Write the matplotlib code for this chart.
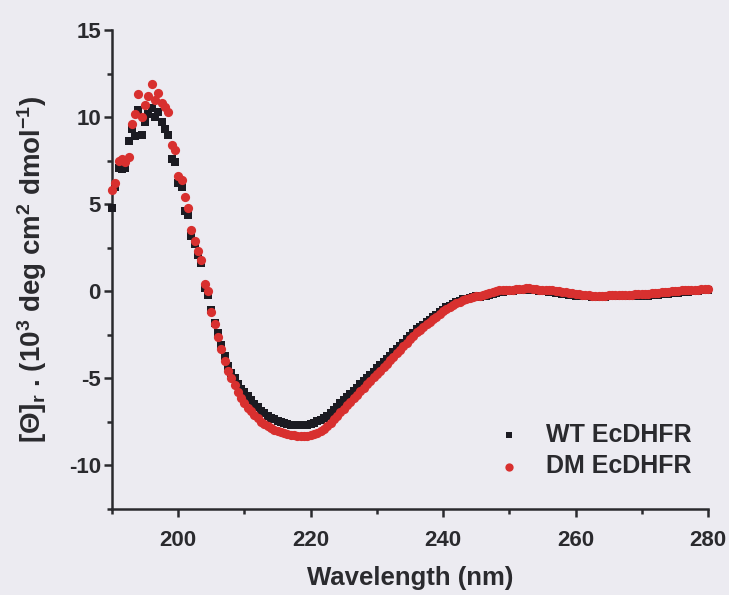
import matplotlib
matplotlib.use("Agg")
import matplotlib.pyplot as plt
from matplotlib.ticker import MultipleLocator

plt.rcParams['font.family'] = ['Liberation Sans', 'DejaVu Sans']
plt.rcParams['font.weight'] = 'bold'
plt.rcParams['axes.unicode_minus'] = False
plt.rcParams['mathtext.fontset'] = 'custom'
plt.rcParams['mathtext.rm'] = 'Liberation Sans:bold'
plt.rcParams['mathtext.it'] = 'Liberation Sans:bold'
plt.rcParams['mathtext.bf'] = 'Liberation Sans:bold'

# Wavelength grid (nm), 0.5 nm steps from 190 to 280
wavelength_start = 190.0
wavelength_step = 0.5

wt_ecdhfr = [
    4.8, 6.0, 7.1, 7.0, 7.1, 8.6, 9.3, 8.9, 10.4, 9.0,          # 190.0-194.5
    9.7, 10.2, 10.5, 10.0, 10.3, 9.7, 9.3, 9.0, 7.6, 7.4,       # 195.0-199.5
    6.2, 6.0, 4.6, 4.4, 3.2, 2.7, 2.1, 1.6, 0.2, -0.2,          # 200.0-204.5
    -1.1, -1.8, -2.4, -3.1, -3.7, -4.3, -4.7, -5.0, -5.3, -5.6,  # 205.0-209.5
    -5.8, -6.0, -6.25, -6.45, -6.65, -6.85, -7.0, -7.15, -7.25, -7.35,  # 210.0-214.5
    -7.45, -7.5, -7.55, -7.6, -7.65, -7.7, -7.7, -7.7, -7.7, -7.65,     # 215.0-219.5
    -7.6, -7.55, -7.45, -7.4, -7.3, -7.15, -6.98, -6.8, -6.62, -6.43,   # 220.0-224.5
    -6.25, -6.07, -5.9, -5.72, -5.53, -5.35, -5.17, -4.98, -4.8, -4.62, # 225.0-229.5
    -4.43, -4.25, -4.06, -3.88, -3.7, -3.5, -3.32, -3.13, -2.95, -2.76, # 230.0-234.5
    -2.57, -2.38, -2.19, -2.05, -1.91, -1.77, -1.63, -1.49, -1.35, -1.21,  # 235.0-239.5
    -1.07, -0.93, -0.83, -0.73, -0.64, -0.55, -0.46, -0.42, -0.37, -0.33,  # 240.0-244.5
    -0.3, -0.33, -0.3, -0.25, -0.2, -0.15, -0.1, -0.05, -0.05, 0.0,       # 245.0-249.5
    0.0, 0.0, 0.05, 0.05, 0.05, 0.1, 0.1, 0.05, 0.05, 0.0,               # 250.0-254.5
    0.0, 0.0, -0.05, -0.05, -0.1, -0.1, -0.15, -0.15, -0.2, -0.2,        # 255.0-259.5
    -0.25, -0.25, -0.3, -0.3, -0.3, -0.35, -0.35, -0.35, -0.35, -0.35,   # 260.0-264.5
    -0.3, -0.3, -0.3, -0.3, -0.3, -0.3, -0.3, -0.3, -0.3, -0.25,         # 265.0-269.5
    -0.25, -0.25, -0.25, -0.2, -0.2, -0.2, -0.15, -0.15, -0.15, -0.1,    # 270.0-274.5
    -0.1, -0.1, -0.05, -0.05, -0.05, 0.0, 0.0, 0.0, 0.05, 0.05,          # 275.0-279.5
    0.05,                                                                # 280.0
]

dm_ecdhfr = [
    5.8, 6.2, 7.5, 7.6, 7.4, 7.7, 9.6, 10.2, 11.3, 10.0,        # 190.0-194.5
    10.7, 11.2, 11.9, 11.0, 11.4, 10.8, 10.6, 10.3, 8.4, 8.1,   # 195.0-199.5
    6.6, 6.4, 5.4, 4.8, 3.5, 2.9, 2.3, 1.8, 0.4, 0.0,           # 200.0-204.5
    -1.2, -1.9, -2.6, -3.3, -4.0, -4.6, -5.0, -5.4, -5.8, -6.1,  # 205.0-209.5
    -6.4, -6.7, -6.9, -7.1, -7.3, -7.5, -7.6, -7.75, -7.85, -7.95,  # 210.0-214.5
    -8.05, -8.1, -8.15, -8.2, -8.25, -8.25, -8.3, -8.3, -8.3, -8.3,  # 215.0-219.5
    -8.25, -8.2, -8.15, -8.05, -7.9, -7.75, -7.55, -7.35, -7.15, -6.95,  # 220.0-224.5
    -6.75, -6.55, -6.35, -6.15, -5.95, -5.75, -5.55, -5.35, -5.15, -4.95,  # 225.0-229.5
    -4.75, -4.55, -4.35, -4.15, -3.95, -3.75, -3.55, -3.35, -3.15, -2.95,  # 230.0-234.5
    -2.75, -2.55, -2.35, -2.2, -2.05, -1.9, -1.75, -1.6, -1.45, -1.3,      # 235.0-239.5
    -1.15, -1.0, -0.9, -0.8, -0.7, -0.6, -0.5, -0.45, -0.4, -0.35,         # 240.0-244.5
    -0.3, -0.25, -0.2, -0.15, -0.1, -0.05, 0.0, 0.05, 0.05, 0.1,           # 245.0-249.5
    0.1, 0.1, 0.15, 0.15, 0.15, 0.2, 0.2, 0.15, 0.15, 0.1,                 # 250.0-254.5
    0.1, 0.1, 0.05, 0.05, 0.0, 0.0, -0.05, -0.05, -0.1, -0.1,              # 255.0-259.5
    -0.15, -0.15, -0.2, -0.2, -0.2, -0.25, -0.25, -0.25, -0.25, -0.25,     # 260.0-264.5
    -0.2, -0.2, -0.2, -0.2, -0.2, -0.2, -0.2, -0.2, -0.15, -0.15,          # 265.0-269.5
    -0.15, -0.15, -0.15, -0.1, -0.1, -0.1, -0.05, -0.05, -0.05, 0.0,       # 270.0-274.5
    0.0, 0.0, 0.05, 0.05, 0.05, 0.1, 0.1, 0.1, 0.15, 0.15,                 # 275.0-279.5
    0.15,                                                                  # 280.0
]

wavelength = [wavelength_start + i * wavelength_step for i in range(len(dm_ecdhfr))]

series_labels = ["WT EcDHFR", "DM EcDHFR"]
x_ticks = [200, 220, 240, 260, 280]
y_ticks = [-10, -5, 0, 5, 10, 15]

bg = '#ecebf1'
axis_col = '#2a2a2e'

fig = plt.figure(figsize=(7.29, 5.95), dpi=100, facecolor=bg)
ax = fig.add_axes([112/729, 1-509/595, (708-112)/729, (509-30)/595])
ax.set_facecolor(bg)

ax.scatter(wavelength, wt_ecdhfr, marker='s', s=28, color='#1b1b22',
           linewidths=0, label=series_labels[0], zorder=3, clip_on=False)
ax.scatter(wavelength, dm_ecdhfr, marker='o', s=44, color='#d8302f',
           linewidths=0, label=series_labels[1], zorder=4, clip_on=False)

ax.set_xlim(190, 280)
ax.set_ylim(-12.5, 15)
ax.set_xticks(x_ticks)
ax.set_yticks(y_ticks)
ax.xaxis.set_minor_locator(MultipleLocator(10))
ax.yaxis.set_minor_locator(MultipleLocator(2.5))

for s in ['top', 'right']:
    ax.spines[s].set_visible(False)
for s in ['left', 'bottom']:
    ax.spines[s].set_color(axis_col)
    ax.spines[s].set_linewidth(1.8)

ax.tick_params(axis='both', which='major', length=6, width=1.8, color=axis_col,
               labelsize=16, labelcolor='#2a2a2e')
ax.tick_params(axis='both', which='minor', length=3.5, width=1.8, color=axis_col)
ax.tick_params(axis='x', which='major', pad=9)
ax.tick_params(axis='y', which='major', pad=2)
for lab in ax.get_xticklabels() + ax.get_yticklabels():
    lab.set_fontweight('bold')

ax.set_xlabel('Wavelength (nm)', fontsize=18.5, fontweight='bold', color='#2a2a2e', labelpad=11)
ax.set_ylabel(r'[Θ]$_\mathregular{r}$ . (10$^\mathregular{3}$ deg cm$^\mathregular{2}$ dmol$^\mathregular{-1}$)',
              fontsize=20, fontweight='bold', color='#2a2a2e', labelpad=14)

leg = ax.legend(loc='upper left', bbox_to_anchor=(0.645, 0.18), frameon=False,
                prop={'weight': 'bold', 'size': 18}, handlelength=1.0,
                handletextpad=1.0, borderaxespad=0, borderpad=0, labelspacing=0.3,
                markerscale=0.9)
for t in leg.get_texts():
    t.set_color('#2a2a2e')

fig.savefig('out.png', dpi=100, facecolor=bg)
